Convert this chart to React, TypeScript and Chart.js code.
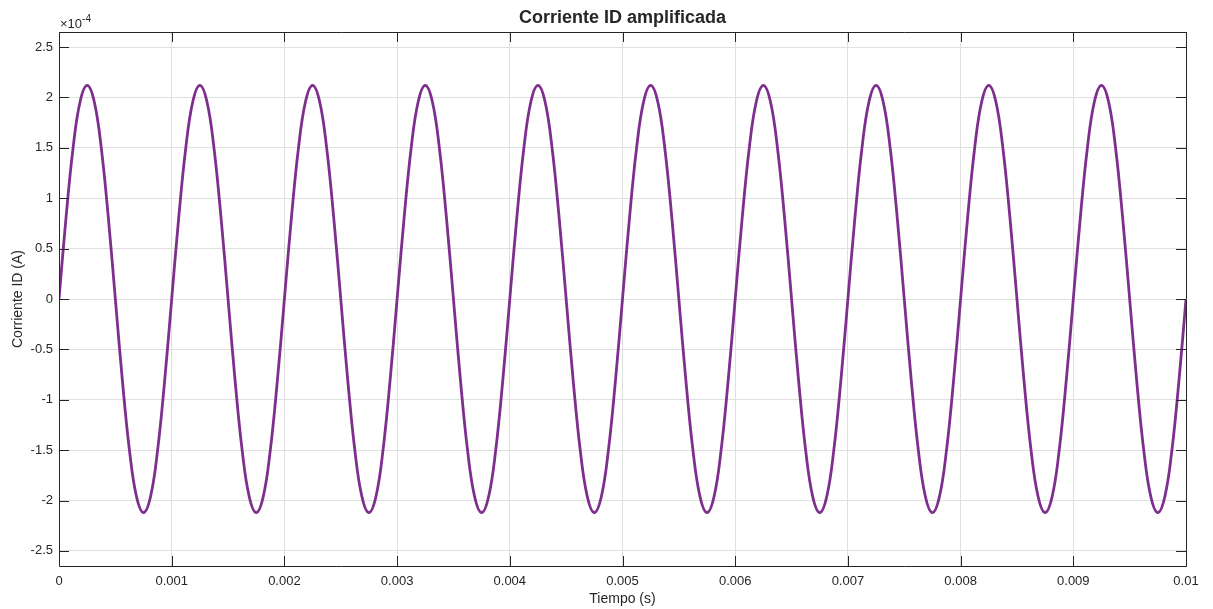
import React, { useEffect, useRef } from "react";
import { Chart, registerables } from "chart.js";

Chart.register(...registerables);

// Sample spacing of the recorded waveform (s): 16 samples per 1 ms cycle
const sampleStep = 0.0000625;

// Amplified drain current, in units of 1e-4 A
const corrienteID = [
  0, 0.81, 1.5, 1.96, 2.12, 1.96, 1.5, 0.81, 0, -0.81, -1.5, -1.96, -2.12, -1.96, -1.5, -0.81,
  0, 0.81, 1.5, 1.96, 2.12, 1.96, 1.5, 0.81, 0, -0.81, -1.5, -1.96, -2.12, -1.96, -1.5, -0.81,
  0, 0.81, 1.5, 1.96, 2.12, 1.96, 1.5, 0.81, 0, -0.81, -1.5, -1.96, -2.12, -1.96, -1.5, -0.81,
  0, 0.81, 1.5, 1.96, 2.12, 1.96, 1.5, 0.81, 0, -0.81, -1.5, -1.96, -2.12, -1.96, -1.5, -0.81,
  0, 0.81, 1.5, 1.96, 2.12, 1.96, 1.5, 0.81, 0, -0.81, -1.5, -1.96, -2.12, -1.96, -1.5, -0.81,
  0, 0.81, 1.5, 1.96, 2.12, 1.96, 1.5, 0.81, 0, -0.81, -1.5, -1.96, -2.12, -1.96, -1.5, -0.81,
  0, 0.81, 1.5, 1.96, 2.12, 1.96, 1.5, 0.81, 0, -0.81, -1.5, -1.96, -2.12, -1.96, -1.5, -0.81,
  0, 0.81, 1.5, 1.96, 2.12, 1.96, 1.5, 0.81, 0, -0.81, -1.5, -1.96, -2.12, -1.96, -1.5, -0.81,
  0, 0.81, 1.5, 1.96, 2.12, 1.96, 1.5, 0.81, 0, -0.81, -1.5, -1.96, -2.12, -1.96, -1.5, -0.81,
  0, 0.81, 1.5, 1.96, 2.12, 1.96, 1.5, 0.81, 0, -0.81, -1.5, -1.96, -2.12, -1.96, -1.5, -0.81,
  0,
];

const xTicks = [0, 0.001, 0.002, 0.003, 0.004, 0.005, 0.006, 0.007, 0.008, 0.009, 0.01];
const yTicks = [-2.5, -2, -1.5, -1, -0.5, 0, 0.5, 1, 1.5, 2, 2.5];

const titleText = "Corriente ID amplificada";
const xLabel = "Tiempo (s)";
const yLabel = "Corriente ID (A)";

const FONT = "'Liberation Sans', Arial, Helvetica, sans-serif";
const INK = "#262626";

// Axes box, inward tick marks, exponent note, title and axis labels
const axesDecor = {
  id: "axesDecor",
  afterDraw(chart: any) {
    const { ctx, chartArea } = chart;
    const { left, right, top, bottom } = chartArea;
    const xs = chart.scales.x;
    const ys = chart.scales.y;
    ctx.save();
    ctx.strokeStyle = INK;
    ctx.lineWidth = 1;
    ctx.beginPath();
    ctx.rect(Math.round(left) + 0.5, Math.round(top) + 0.5, Math.round(right - left), Math.round(bottom - top));
    ctx.stroke();

    const tl = 10;
    ctx.beginPath();
    xTicks.forEach((v) => {
      const px = Math.round(xs.getPixelForValue(v)) + 0.5;
      ctx.moveTo(px, bottom);
      ctx.lineTo(px, bottom - tl);
      ctx.moveTo(px, top);
      ctx.lineTo(px, top + tl);
    });
    yTicks.forEach((v) => {
      const py = Math.round(ys.getPixelForValue(v)) + 0.5;
      ctx.moveTo(left, py);
      ctx.lineTo(left + tl, py);
      ctx.moveTo(right, py);
      ctx.lineTo(right - tl, py);
    });
    ctx.stroke();

    // exponent note above the y axis
    ctx.fillStyle = INK;
    ctx.textBaseline = "alphabetic";
    ctx.textAlign = "left";
    ctx.font = `13px ${FONT}`;
    ctx.fillText("\u00d710", left + 1, top - 4);
    const w = ctx.measureText("\u00d710").width;
    ctx.font = `10px ${FONT}`;
    ctx.fillText("-4", left + 1 + w, top - 10);

    // title
    ctx.textAlign = "center";
    ctx.textBaseline = "middle";
    ctx.font = `bold 18px ${FONT}`;
    ctx.fillText(titleText, (left + right) / 2, 18);

    // x axis label
    ctx.font = `14px ${FONT}`;
    ctx.fillText(xLabel, (left + right) / 2, 599);

    // y axis label
    ctx.translate(18, (top + bottom) / 2);
    ctx.rotate(-Math.PI / 2);
    ctx.fillText(yLabel, 0, 0);
    ctx.restore();
  },
};

export default function App() {
  const canvasRef = useRef<HTMLCanvasElement>(null);

  useEffect(() => {
    const canvas = canvasRef.current;
    if (!canvas) return;
    const points = corrienteID.map((y, i) => ({ x: i * sampleStep, y }));
    const chart = new Chart(canvas, {
      type: "line",
      data: {
        datasets: [
          {
            data: points,
            borderColor: "#7E2F8E",
            borderWidth: 2.8,
            pointRadius: 0,
            tension: 0.4,
            fill: false,
          },
        ],
      },
      options: {
        animation: false,
        responsive: false,
        devicePixelRatio: 1,
        layout: { padding: { left: 0, right: 27, top: 32, bottom: 0 } },
        plugins: {
          legend: { display: false },
          tooltip: { enabled: false },
          title: { display: false },
        },
        scales: {
          x: {
            type: "linear",
            min: 0,
            max: 0.01,
            afterBuildTicks: (scale: any) => {
              scale.ticks = xTicks.map((value) => ({ value }));
            },
            afterFit: (scale: any) => {
              scale.height = 43;
            },
            border: { display: false },
            grid: { color: "#dfdfdf", drawTicks: false, lineWidth: 1 },
            ticks: {
              autoSkip: false,
              maxRotation: 0,
              padding: 8,
              color: INK,
              font: { family: FONT, size: 13 },
              callback: (v: any) => String(Number(Number(v).toFixed(3))),
            },
          },
          y: {
            type: "linear",
            min: -2.65,
            max: 2.65,
            afterBuildTicks: (scale: any) => {
              scale.ticks = yTicks.map((value) => ({ value }));
            },
            afterFit: (scale: any) => {
              scale.width = 59;
            },
            border: { display: false },
            grid: { color: "#dfdfdf", drawTicks: false, lineWidth: 1 },
            ticks: {
              padding: 6,
              color: INK,
              font: { family: FONT, size: 13 },
              callback: (v: any) => String(Number(Number(v).toFixed(2))),
            },
          },
        },
      },
      plugins: [axesDecor],
    });
    return () => chart.destroy();
  }, []);

  return (
    <div style={{ position: "absolute", left: 0, top: 0, width: 1213, height: 609, background: "#ffffff" }}>
      <canvas ref={canvasRef} width={1213} height={609} />
    </div>
  );
}
